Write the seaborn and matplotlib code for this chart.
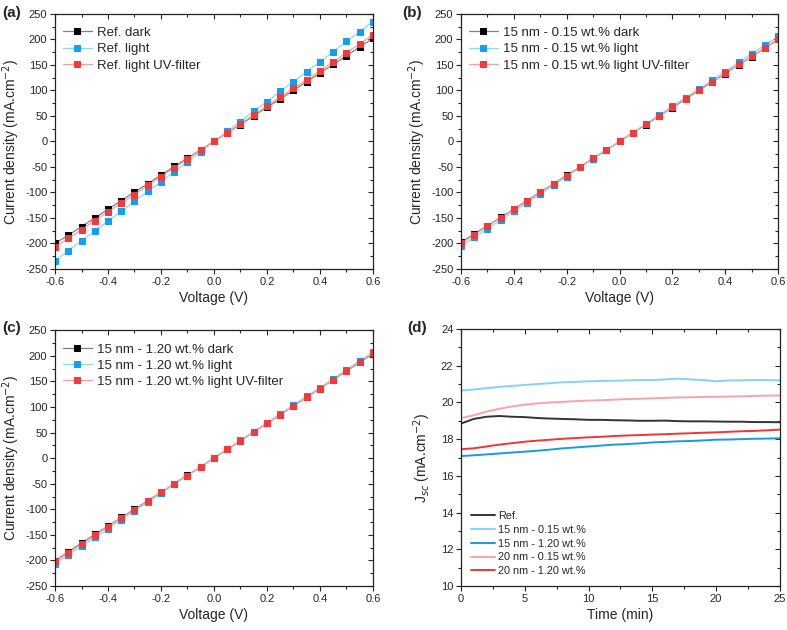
import numpy as np
import pandas as pd
import seaborn as sns
import matplotlib
matplotlib.use("Agg")
import matplotlib.pyplot as plt
from matplotlib.ticker import MultipleLocator

# J-V sweeps, voltage in V, current density in mA/cm2
voltage = [-0.6, -0.55, -0.5, -0.45, -0.4, -0.35, -0.3, -0.25, -0.2, -0.15, -0.1, -0.05,
           0.0, 0.05, 0.1, 0.15, 0.2, 0.25, 0.3, 0.35, 0.4, 0.45, 0.5, 0.55, 0.6]

ref_dark = [-200, -184, -167, -150, -133, -116, -99, -83, -66, -49, -33, -16,
            0, 17, 33, 50, 67, 83, 100, 117, 134, 151, 168, 185, 202]
ref_light = [-234, -214, -195, -175, -156, -137, -117, -98, -79, -59, -40, -20,
             0, 20, 39, 59, 78, 98, 117, 137, 156, 176, 196, 215, 235]
ref_uv = [-207, -190, -173, -155, -138, -121, -104, -86, -69, -52, -35, -17,
          0, 17, 35, 52, 69, 87, 104, 121, 139, 156, 174, 191, 209]

b_dark = [-198, -181, -165, -149, -132, -116, -99, -83, -66, -50, -33, -17,
          0, 17, 33, 50, 66, 83, 100, 116, 133, 150, 166, 183, 200]
b_light = [-205, -188, -171, -154, -137, -120, -103, -86, -69, -51, -34, -17,
           0, 17, 34, 52, 69, 86, 103, 120, 137, 155, 172, 189, 206]
b_uv = [-200, -183, -166, -150, -133, -117, -100, -83, -67, -50, -33, -17,
        0, 17, 34, 50, 67, 84, 101, 117, 134, 151, 167, 184, 201]

c_dark = [-201, -183, -166, -149, -133, -116, -100, -83, -67, -50, -33, -17,
          0, 17, 34, 51, 68, 85, 102, 119, 136, 153, 170, 187, 204]
c_light = [-206, -189, -172, -155, -138, -120, -103, -86, -69, -51, -34, -17,
           0, 17, 35, 52, 69, 86, 104, 121, 138, 155, 173, 190, 207]
c_uv = [-202, -185, -168, -151, -134, -117, -101, -84, -67, -50, -34, -17,
        0, 17, 34, 51, 68, 85, 102, 119, 136, 153, 171, 188, 205]

# Jsc vs time, minutes
time_min = [0, 1, 2, 3, 4, 5, 6, 7, 8, 9, 10, 11, 12, 13, 14, 15, 16, 17, 18, 19, 20,
            21, 22, 23, 24, 25]
jsc_ref = [18.85, 19.1, 19.22, 19.26, 19.22, 19.2, 19.15, 19.12, 19.1, 19.08, 19.05, 19.05,
           19.03, 19.02, 19.0, 19.0, 19.01, 18.98, 18.97, 18.97, 18.96, 18.95, 18.95,
           18.93, 18.93, 18.92]
jsc_15_015 = [20.65, 20.7, 20.78, 20.85, 20.9, 20.95, 21.0, 21.05, 21.1, 21.12, 21.15, 21.17,
              21.18, 21.2, 21.22, 21.22, 21.25, 21.3, 21.25, 21.22, 21.15, 21.2, 21.2,
              21.22, 21.22, 21.2]
jsc_15_120 = [17.08, 17.12, 17.17, 17.22, 17.27, 17.32, 17.37, 17.43, 17.5, 17.55, 17.6,
              17.65, 17.7, 17.73, 17.77, 17.82, 17.85, 17.88, 17.9, 17.93, 17.97, 17.98,
              18.0, 18.02, 18.03, 18.05]
jsc_20_015 = [19.15, 19.3, 19.5, 19.65, 19.78, 19.88, 19.95, 20.0, 20.03, 20.07, 20.1, 20.12,
              20.15, 20.18, 20.2, 20.22, 20.25, 20.27, 20.28, 20.3, 20.3, 20.32, 20.33,
              20.35, 20.37, 20.38]
jsc_20_120 = [17.45, 17.5, 17.6, 17.7, 17.78, 17.86, 17.92, 17.97, 18.02, 18.06, 18.1, 18.13,
              18.17, 18.2, 18.22, 18.25, 18.27, 18.3, 18.32, 18.35, 18.37, 18.4, 18.43,
              18.45, 18.48, 18.52]

sns.set_style("ticks")
plt.rcParams['font.family'] = ['Liberation Sans', 'DejaVu Sans']
plt.rcParams['axes.unicode_minus'] = False

fig = plt.figure(figsize=(7.87, 6.30), dpi=100)

# (line colour, marker colour)
jv_styles = [("#808080", "#000000"), ("#8fd6f6", "#12a0ee"), ("#f4a0a0", "#ef3b3b")]


def style_axes(ax):
    for s in ax.spines.values():
        s.set_color("#222222")
        s.set_linewidth(0.9)
    ax.tick_params(which='both', direction='out', top=False, right=False, labelsize=8,
                   color="#222222", width=0.8, pad=2)
    ax.tick_params(which='major', length=3.5)
    ax.tick_params(which='minor', length=2)
    sec = ax.secondary_xaxis('top')
    sec.tick_params(which='both', direction='in', labeltop=False, width=0.8)
    sec.tick_params(which='major', length=3.5)
    sec.tick_params(which='minor', length=2)
    sec.xaxis.set_major_locator(ax.xaxis.get_major_locator())
    sec.xaxis.set_minor_locator(ax.xaxis.get_minor_locator())
    sec2 = ax.secondary_yaxis('right')
    sec2.tick_params(which='both', direction='in', labelright=False, width=0.8)
    sec2.tick_params(which='major', length=3.5)
    sec2.tick_params(which='minor', length=2)
    sec2.yaxis.set_major_locator(ax.yaxis.get_major_locator())
    sec2.yaxis.set_minor_locator(ax.yaxis.get_minor_locator())
    for s in list(sec.spines.values()) + list(sec2.spines.values()):
        s.set_visible(False)


def jv_panel(rect, series, names):
    ax = fig.add_axes(rect)
    for ys, name, (lc, mc) in zip(series, names, jv_styles):
        df = pd.DataFrame({"V": voltage, "J": ys})
        sns.lineplot(data=df, x="V", y="J", ax=ax, color=lc, linewidth=0.9, marker='s',
                     markersize=5, markerfacecolor=mc, markeredgecolor=mc, label=name)
    ax.set_xlim(-0.6, 0.6)
    ax.set_ylim(-250, 250)
    ax.xaxis.set_major_locator(MultipleLocator(0.2))
    ax.xaxis.set_minor_locator(MultipleLocator(0.1))
    ax.yaxis.set_major_locator(MultipleLocator(50))
    ax.yaxis.set_minor_locator(MultipleLocator(25))
    ax.set_xticks(np.arange(-0.6, 0.61, 0.2))
    ax.set_xticklabels(["-0.6", "-0.4", "-0.2", "0.0", "0.2", "0.4", "0.6"])
    ax.set_xlabel("Voltage (V)", fontsize=10, labelpad=3)
    ax.set_ylabel("Current density (mA.cm$^{-2}$)", fontsize=10, labelpad=2)
    ax.legend(loc='upper left', bbox_to_anchor=(0.0, 0.98), frameon=False, fontsize=9.5,
              handlelength=2.2, handletextpad=0.4, labelspacing=0.3, borderaxespad=0.2,
              markerscale=0.9)
    style_axes(ax)
    return ax


jv_panel([0.0699, 0.573, 0.404, 0.405], [ref_dark, ref_light, ref_uv],
         ["Ref. dark", "Ref. light", "Ref. light UV-filter"])
jv_panel([0.5858, 0.573, 0.403, 0.405], [b_dark, b_light, b_uv],
         ["15 nm - 0.15 wt.% dark", "15 nm - 0.15 wt.% light",
          "15 nm - 0.15 wt.% light UV-filter"])
jv_panel([0.0699, 0.0698, 0.404, 0.406], [c_dark, c_light, c_uv],
         ["15 nm - 1.20 wt.% dark", "15 nm - 1.20 wt.% light",
          "15 nm - 1.20 wt.% light UV-filter"])

# panel (d)
axd = fig.add_axes([0.5858, 0.0698, 0.405, 0.408])
jsc_names = ["Ref.", "15 nm - 0.15 wt.%", "15 nm - 1.20 wt.%", "20 nm - 0.15 wt.%",
             "20 nm - 1.20 wt.%"]
jsc_colors = ["#333333", "#86d3f7", "#1a98e4", "#f6a4a4", "#ee3636"]
jsc_series = [jsc_ref, jsc_15_015, jsc_15_120, jsc_20_015, jsc_20_120]
for ys, name, col in zip(jsc_series, jsc_names, jsc_colors):
    df = pd.DataFrame({"t": time_min, "J": ys})
    sns.lineplot(data=df, x="t", y="J", ax=axd, color=col, linewidth=1.4, label=name)
axd.set_xlim(0, 25)
axd.set_ylim(10, 24)
axd.xaxis.set_major_locator(MultipleLocator(5))
axd.xaxis.set_minor_locator(MultipleLocator(2.5))
axd.yaxis.set_major_locator(MultipleLocator(2))
axd.yaxis.set_minor_locator(MultipleLocator(1))
axd.set_xlabel("Time (min)", fontsize=10, labelpad=3)
axd.set_ylabel("J$_{sc}$ (mA.cm$^{-2}$)", fontsize=10, labelpad=6)
axd.legend(loc='lower left', frameon=False, fontsize=7.8, handlelength=2.2,
           handletextpad=0.3, labelspacing=0.35, borderaxespad=0.5)
style_axes(axd)

for txt, x, y in [("(a)", 0.003, 0.99), ("(b)", 0.511, 0.99),
                  ("(c)", 0.003, 0.49), ("(d)", 0.517, 0.49)]:
    fig.text(x, y, txt, fontsize=11, fontweight='bold', va='top', ha='left')

fig.savefig("out.png", dpi=100)
